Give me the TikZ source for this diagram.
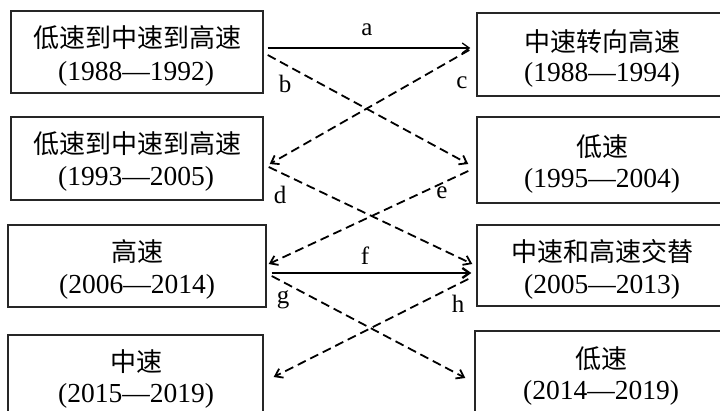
\documentclass[tikz,border=0pt]{standalone}
\usepackage{fontspec}
\setmainfont{Liberation Serif}
\newfontfamily\cjk{Noto Sans CJK SC}
\usetikzlibrary{arrows.meta}
\begin{document}
\begin{tikzpicture}[x=1pt,y=-1pt,
 box/.style={draw=black!85, line width=1.4pt, rectangle, inner sep=0pt},
 cn/.style={font=\cjk\fontsize{26}{30}\selectfont, inner sep=0pt},
 yr/.style={font=\fontsize{27.5}{32}\selectfont, inner sep=0pt},
 lbl/.style={font=\fontsize{25}{29}\selectfont, inner sep=0pt},
 arr/.style={line width=1.8pt, -{Straight Barb[length=7pt,width=10pt]}},
 dsh/.style={arr, dash pattern=on 9pt off 5pt}]
\useasboundingbox (0,0) rectangle (720,411);
\clip (0,0) rectangle (720,411);
\fill[white] (0,0) rectangle (720,411);
% boxes
\node[box, minimum width=252pt, minimum height=82pt] (L1) at (137,52) {};
\node[box, minimum width=252pt, minimum height=83pt] (L2) at (137,158.5) {};
\node[box, minimum width=258pt, minimum height=82pt] (L3) at (137,266) {};
\node[box, minimum width=255pt, minimum height=95pt] (L4) at (135.5,382.5) {};
\node[box, minimum width=250pt, minimum height=83pt] (R1) at (602,54.5) {};
\node[box, minimum width=250pt, minimum height=86pt] (R2) at (602,160) {};
\node[box, minimum width=250pt, minimum height=81pt] (R3) at (602,265.5) {};
\node[box, minimum width=252pt, minimum height=99pt] (R4) at (601,380.5) {};
% texts
\node[cn] (L1a) at (137,38) {低速到中速到高速};
\node[yr] (L1b) at (136,74) {(1988—1992)};
\node[cn] (L2a) at (137,144) {低速到中速到高速};
\node[yr] (L2b) at (136,179) {(1993—2005)};
\node[cn] (L3a) at (137,252) {高速};
\node[yr] (L3b) at (137,287) {(2006—2014)};
\node[cn] (L4a) at (136,362) {中速};
\node[yr] (L4b) at (136,396) {(2015—2019)};
\node[cn] (R1a) at (602,42) {中速转向高速};
\node[yr] (R1b) at (602,75) {(1988—1994)};
\node[cn] (R2a) at (602,147) {低速};
\node[yr] (R2b) at (602,181) {(1995—2004)};
\node[cn] (R3a) at (602,252) {中速和高速交替};
\node[yr] (R3b) at (602,287) {(2005—2013)};
\node[cn] (R4a) at (601,359) {低速};
\node[yr] (R4b) at (601,393) {(2014—2019)};
% connectors
\draw[arr, line width=1.3pt] ([shift={(4,-4)}]L1.east) -- ([shift={(-6,-6.5)}]R1.west);
\draw[dsh] ([shift={(4,3)}]L1.east) -- ([shift={(-8,4)}]R2.west);
\draw[dsh] ([shift={(-7,-4.5)}]R1.west) -- ([shift={(6,5.5)}]L2.east);
\draw[dsh] ([shift={(5,8.5)}]L2.east) -- ([shift={(-4,-1.5)}]R3.west);
\draw[dsh] ([shift={(-8,11)}]R2.west) -- ([shift={(2,-2)}]L3.east);
\draw[arr, line width=2.3pt] ([shift={(5,7)}]L3.east) -- ([shift={(-5,7.5)}]R3.west);
\draw[dsh] ([shift={(5,10)}]L3.east) -- ([shift={(-9,-2.5)}]R4.west);
\draw[dsh] ([shift={(-8,13.5)}]R3.west) -- ([shift={(10,-5.5)}]L4.east);
% labels
\node[lbl] (la) at (367,30) {a};
\node[lbl] (lb) at (285,84) {b};
\node[lbl] (lc) at (462,83) {c};
\node[lbl] (ld) at (280,195) {d};
\node[lbl] (le) at (442,193) {e};
\node[lbl] (lf) at (365,256) {f};
\node[lbl] (lg) at (283,300) {g};
\node[lbl] (lh) at (458,304) {h};
\end{tikzpicture}
\end{document}
